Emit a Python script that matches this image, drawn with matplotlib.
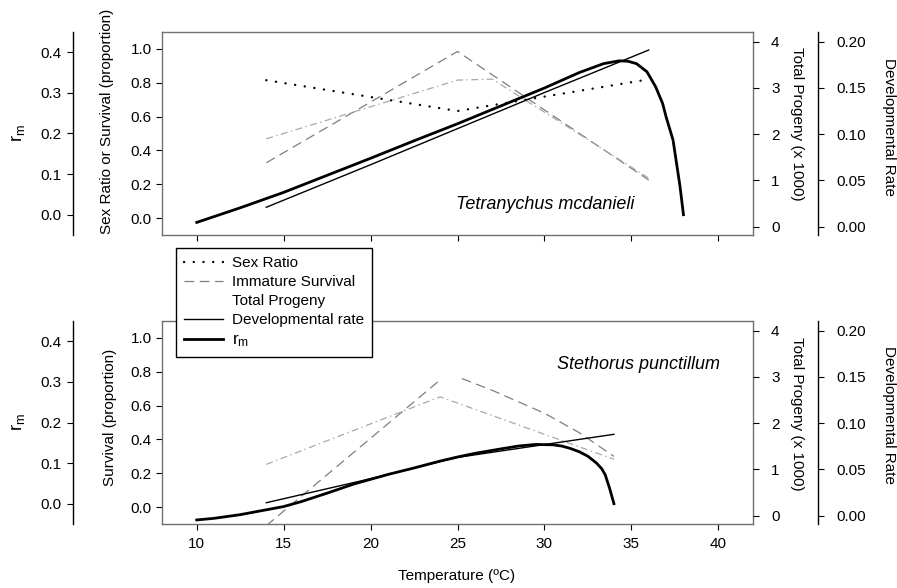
import numpy as np
import matplotlib
matplotlib.use('Agg')
import matplotlib.pyplot as plt
from matplotlib.lines import Line2D
from matplotlib.ticker import FormatStrFormatter

plt.rcParams['font.family'] = ['Liberation Sans', 'DejaVu Sans']
plt.rcParams['mathtext.fontset'] = 'custom'
plt.rcParams['mathtext.rm'] = 'Liberation Sans'
plt.rcParams['mathtext.it'] = 'Liberation Sans:italic'
plt.rcParams['lines.scale_dashes'] = False
plt.rcParams['font.size'] = 11

# Tetranychus mcdanieli (top panel)
tm_sex_t = [14, 25, 36]
tm_sex = [0.815, 0.633, 0.82]
tm_surv_t = [14, 25, 36]
tm_surv = [0.327, 0.985, 0.225]
tm_prog_t = [14, 25, 27, 36]
tm_prog = [1.90, 3.17, 3.19, 1.05]
tm_dev_t = [14, 20, 25, 30, 36]
tm_dev = [0.021, 0.067, 0.106, 0.145, 0.191]
tm_rm_t = [10, 12.5, 15, 17.5, 20, 22.5, 25, 27.5, 30, 32, 33.4, 34.3, 34.8, 35.3, 35.9,
           36.4, 36.8, 37.0, 37.4, 37.6, 37.8, 38.0]
tm_rm = [-0.019, 0.017, 0.055, 0.097, 0.139, 0.182, 0.224, 0.268, 0.312, 0.350, 0.372, 0.379, 0.378, 0.372, 0.352,
         0.315, 0.274, 0.241, 0.184, 0.127, 0.07, 0.0]

# Stethorus punctillum (bottom panel)
sp_surv_t = [14, 24.1, np.nan, 25.25, 27, 30, 32, 34]
sp_surv = [-0.11, 0.76, np.nan, 0.76, 0.69, 0.555, 0.44, 0.30]
sp_prog_t = [14, 24, 34]
sp_prog = [1.11, 2.57, 1.22]
sp_dev_t = [14, 20, 25, 34]
sp_dev = [0.014, 0.040, 0.063, 0.088]
sp_rm_t = [10, 11, 12.5, 14, 15, 16, 17.5, 19, 20, 21, 22.5, 24, 25, 26, 27.5, 28.5, 29.5, 30.5,
           31, 31.5, 32, 32.5, 33, 33.3, 33.5, 33.75, 34]
sp_rm = [-0.040, -0.036, -0.027, -0.015, -0.007, 0.005, 0.026, 0.048, 0.060, 0.072, 0.088, 0.105,
         0.115, 0.124, 0.135, 0.142, 0.146, 0.145, 0.142, 0.136, 0.128, 0.117, 0.100, 0.086,
         0.071, 0.038, 0.0]

x_ticks = [10, 15, 20, 25, 30, 35, 40]
surv_ticks = [0.0, 0.2, 0.4, 0.6, 0.8, 1.0]
rm_ticks = [0.0, 0.1, 0.2, 0.3, 0.4]
prog_ticks = [0, 1, 2, 3, 4]
dev_ticks = [0.00, 0.05, 0.10, 0.15, 0.20]

W, H = 897, 588
fig = plt.figure(figsize=(W / 100, H / 100), dpi=100)

sr_style = dict(color='black', lw=1.7, dashes=(0.1, 6.9), dash_capstyle='round')
surv_style = dict(color='#7f7f7f', lw=0.9, dashes=(7, 4))
prog_style = dict(color='#a8a8a8', lw=0.9, dashes=(5, 2.5, 1, 2.5))
dev_style = dict(color='black', lw=1.0)
rm_style = dict(color='black', lw=2.0)

box_col = '#707070'


def make_panel(top, bottom, show_xlabels):
    ax = fig.add_axes([162 / W, 1 - bottom / H, 591 / W, (bottom - top) / H])
    ax.set_xlim(8, 42)
    ax.set_ylim(-0.1, 1.1)
    ax.set_xticks(x_ticks)
    ax.set_yticks(surv_ticks)
    ax.yaxis.set_major_formatter(FormatStrFormatter('%.1f'))
    for s in ax.spines.values():
        s.set_color(box_col)
        s.set_linewidth(1.0)
    ax.tick_params(direction='out', length=4, width=0.8, labelsize=11, pad=3.5)
    ax.tick_params(axis='x', pad=5.5, labelbottom=show_xlabels)

    prog = ax.twinx()
    prog.set_ylim(-0.18, 4.21)
    prog.set_yticks(prog_ticks)
    for s in prog.spines.values():
        s.set_visible(False)
    prog.tick_params(direction='out', length=4, width=0.8, labelsize=11, pad=9)

    dev = ax.twinx()
    dev.set_ylim(-0.009, 0.2105)
    dev.set_yticks(dev_ticks)
    dev.yaxis.set_major_formatter(FormatStrFormatter('%.2f'))
    for s in dev.spines.values():
        s.set_visible(False)
    dev.spines['right'].set_visible(True)
    dev.spines['right'].set_position(('outward', 47))
    dev.spines['right'].set_linewidth(1.0)
    dev.tick_params(direction='out', length=4, width=0.8, labelsize=11, pad=9)

    rm = ax.twinx()
    rm.set_ylim(-0.05, 0.45)
    rm.set_yticks(rm_ticks)
    rm.yaxis.set_major_formatter(FormatStrFormatter('%.1f'))
    for s in rm.spines.values():
        s.set_visible(False)
    rm.spines['left'].set_visible(True)
    rm.spines['left'].set_position(('outward', 64))
    rm.spines['left'].set_linewidth(1.0)
    rm.yaxis.set_ticks_position('left')
    rm.tick_params(direction='out', length=4, width=0.8, labelsize=11, pad=4.5)
    return ax, prog, dev, rm


# top panel
ax, prog, dev, rm = make_panel(32, 235, False)
ax.plot(tm_surv_t, tm_surv, **surv_style)
ax.plot(tm_sex_t, tm_sex, **sr_style)
prog.plot(tm_prog_t, tm_prog, **prog_style)
dev.plot(tm_dev_t, tm_dev, **dev_style)
rm.plot(tm_rm_t, tm_rm, **rm_style)
ax.text(30.06, 0.079, 'Tetranychus mcdanieli', style='italic', fontsize=13,
        ha='center', va='center')

# bottom panel
ax, prog, dev, rm = make_panel(321, 524, True)
ax.plot(sp_surv_t, sp_surv, **surv_style)
prog.plot(sp_prog_t, sp_prog, **prog_style)
dev.plot(sp_dev_t, sp_dev, **dev_style)
rm.plot(sp_rm_t, sp_rm, **rm_style)
ax.text(35.4, 0.845, 'Stethorus punctillum', style='italic', fontsize=13,
        ha='center', va='center')

# axis titles
def ftext(x, y, s, rot, size=11):
    fig.text(x / W, 1 - y / H, s, rotation=rot, ha='center', va='center', fontsize=size)

ftext(18, 133, r'$\mathrm{r_m}$', 90, 13)
ftext(107, 121, 'Sex Ratio or Survival (proportion)', 90)
ftext(797, 124, 'Total Progeny (x 1000)', 270)
ftext(889, 127, 'Developmental Rate', 270)
ftext(18, 422, r'$\mathrm{r_m}$', 90, 13)
ftext(110, 417, 'Survival (proportion)', 90)
ftext(797, 414, 'Total Progeny (x 1000)', 270)
ftext(889, 415, 'Developmental Rate', 270)
ftext(457, 576, 'Temperature (ºC)', 0)

# legend
handles = [Line2D([], [], **sr_style), Line2D([], [], **surv_style),
           Line2D([], [], color='none'), Line2D([], [], **dev_style),
           Line2D([], [], **rm_style)]
labels = ['Sex Ratio', 'Immature Survival', 'Total Progeny', 'Developmental rate', r'$\mathrm{r_m}$']
leg = fig.legend(handles, labels, loc='upper left', bbox_to_anchor=(176 / W, 1 - 248 / H),
                 frameon=True, fancybox=False, edgecolor='black', framealpha=1,
                 fontsize=11, handlelength=2.5, handletextpad=0.6, labelspacing=0.32,
                 borderpad=0.55, borderaxespad=0)
leg.get_frame().set_linewidth(1.0)
leg.get_texts()[-1].set_fontsize(12.5)

fig.savefig('out.png', dpi=100)
